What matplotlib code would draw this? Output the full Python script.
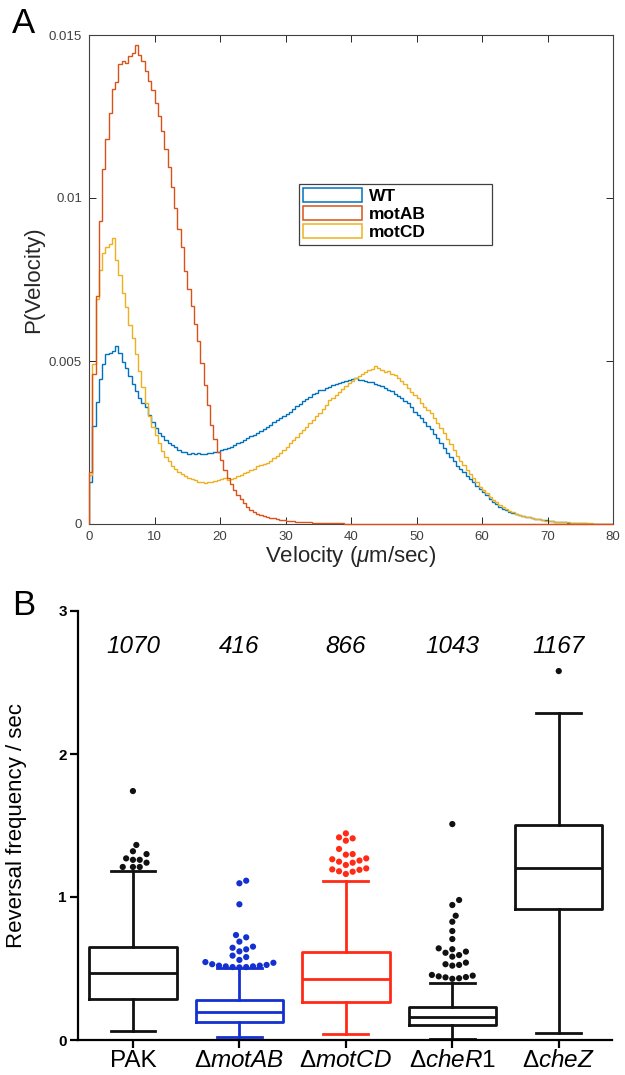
"""
Panel A: velocity distributions (WT / motAB / motCD)
Panel B: reversal frequency box plots
"""
import numpy as np
import matplotlib
matplotlib.use('Agg')
import matplotlib.pyplot as plt
from matplotlib.patches import Patch

plt.rcParams['font.family'] = ['Liberation Sans', 'DejaVu Sans']
plt.rcParams['mathtext.fontset'] = 'custom'
plt.rcParams['mathtext.rm'] = 'Liberation Sans'
plt.rcParams['mathtext.it'] = 'Liberation Sans:italic'
plt.rcParams['mathtext.bf'] = 'Liberation Sans:bold'

# ---- panel A data: P(velocity) per 0.5 um/sec bin, in units of 1e-3 ----
BIN_WIDTH = 0.5
series_names = ['WT', 'motAB', 'motCD']

wt = [
    1.3, 3.0, 3.75, 4.45, 4.9, 5.2, 5.25, 5.3, 5.45, 5.25,
    4.98, 4.78, 4.55, 4.3, 4.08, 3.88, 3.7, 3.58, 3.35, 3.12,
    2.95, 2.78, 2.7, 2.58, 2.5, 2.43, 2.35, 2.28, 2.22, 2.2,
    2.16, 2.19, 2.15, 2.18, 2.16, 2.14, 2.18, 2.17, 2.2, 2.21,
    2.26, 2.3, 2.34, 2.36, 2.43, 2.47, 2.53, 2.58, 2.63, 2.69,
    2.73, 2.8, 2.85, 2.92, 2.98, 3.05, 3.12, 3.18, 3.24, 3.31,
    3.37, 3.45, 3.52, 3.62, 3.69, 3.76, 3.83, 3.9, 3.98, 4.03,
    4.1, 4.12, 4.18, 4.2, 4.26, 4.3, 4.33, 4.37, 4.4, 4.43,
    4.44, 4.47, 4.42, 4.43, 4.4, 4.37, 4.35, 4.3, 4.27, 4.22,
    4.18, 4.12, 4.07, 4.0, 3.94, 3.86, 3.78, 3.7, 3.6, 3.45,
    3.35, 3.24, 3.13, 3.02, 2.9, 2.77, 2.63, 2.48, 2.33, 2.18,
    2.04, 1.92, 1.79, 1.68, 1.58, 1.48, 1.38, 1.28, 1.18, 1.08,
    0.98, 0.88, 0.78, 0.69, 0.6, 0.53, 0.47, 0.42, 0.38, 0.35,
    0.31, 0.28, 0.26, 0.23, 0.21, 0.19, 0.16, 0.14, 0.12, 0.11,
    0.09, 0.08, 0.07, 0.06, 0.05, 0.05, 0.04, 0.03, 0.03, 0.02,
    0.02, 0.02, 0.01, 0.01, 0.01, 0.01, 0.0, 0.0, 0.0, 0.0,
]

motab = [
    1.6, 4.6, 7.0, 9.3, 10.9, 11.8, 12.6, 13.35, 13.55, 14.1,
    14.2, 14.15, 14.35, 14.45, 14.7, 14.4, 14.2, 13.9, 13.6, 13.3,
    12.9, 12.5, 12.05, 11.5, 10.95, 10.35, 9.7, 9.05, 8.5, 7.75,
    7.2, 6.7, 6.15, 5.6, 4.95, 4.25, 3.65, 3.05, 2.6, 2.2,
    1.95, 1.65, 1.42, 1.22, 1.05, 0.9, 0.76, 0.63, 0.52, 0.43,
    0.37, 0.32, 0.28, 0.24, 0.21, 0.19, 0.17, 0.15, 0.13, 0.11,
    0.1, 0.09, 0.08, 0.07, 0.06, 0.06, 0.05, 0.05, 0.04, 0.04,
    0.04, 0.03, 0.03, 0.03, 0.02, 0.02, 0.02, 0.02, 0.01, 0.01,
    0.01, 0.01, 0.01, 0.01, 0.01, 0.01, 0.0, 0.0, 0.0, 0.0,
    0.0, 0.0, 0.0, 0.0, 0.0, 0.0, 0.0, 0.0, 0.0, 0.0,
    0.0, 0.0, 0.0, 0.0, 0.0, 0.0, 0.0, 0.0, 0.0, 0.0,
    0.0, 0.0, 0.0, 0.0, 0.0, 0.0, 0.0, 0.0, 0.0, 0.0,
    0.0, 0.0, 0.0, 0.0, 0.0, 0.0, 0.0, 0.0, 0.0, 0.0,
    0.0, 0.0, 0.0, 0.0, 0.0, 0.0, 0.0, 0.0, 0.0, 0.0,
    0.0, 0.0, 0.0, 0.0, 0.0, 0.0, 0.0, 0.0, 0.0, 0.0,
    0.0, 0.0, 0.0, 0.0, 0.0, 0.0, 0.0, 0.0, 0.0, 0.0,
]

motcd = [
    1.5, 4.9, 6.9, 7.8, 8.3, 8.5, 8.6, 8.78, 8.1, 7.65,
    7.1, 6.65, 6.1, 5.7, 5.2, 4.7, 4.2, 3.7, 3.3, 2.98,
    2.72, 2.5, 2.24, 2.05, 1.92, 1.78, 1.7, 1.6, 1.53, 1.46,
    1.42, 1.38, 1.35, 1.3, 1.29, 1.27, 1.28, 1.3, 1.33, 1.35,
    1.38, 1.4, 1.36, 1.38, 1.42, 1.46, 1.5, 1.55, 1.61, 1.66,
    1.7, 1.77, 1.82, 1.85, 1.88, 1.93, 2.01, 2.09, 2.17, 2.27,
    2.37, 2.47, 2.57, 2.68, 2.78, 2.88, 2.99, 3.09, 3.19, 3.3,
    3.4, 3.53, 3.66, 3.79, 3.88, 3.97, 4.06, 4.15, 4.23, 4.31,
    4.4, 4.48, 4.55, 4.6, 4.65, 4.71, 4.76, 4.85, 4.78, 4.72,
    4.65, 4.68, 4.6, 4.57, 4.48, 4.4, 4.3, 4.18, 4.06, 3.95,
    3.85, 3.72, 3.6, 3.5, 3.4, 3.25, 3.1, 2.95, 2.78, 2.6,
    2.44, 2.27, 2.1, 1.93, 1.8, 1.67, 1.54, 1.41, 1.28, 1.14,
    1.04, 0.94, 0.84, 0.75, 0.66, 0.58, 0.52, 0.46, 0.41, 0.37,
    0.32, 0.28, 0.26, 0.23, 0.21, 0.19, 0.16, 0.14, 0.12, 0.1,
    0.09, 0.08, 0.07, 0.06, 0.06, 0.05, 0.05, 0.04, 0.03, 0.03,
    0.03, 0.02, 0.02, 0.02, 0.01, 0.01, 0.01, 0.01, 0.0, 0.0,
]

series_colors = ['#0072BD', '#D95319', '#EDB120']

# ---- panel B data: reversal frequency box stats ----
groups = ['PAK', 'Δ$\\mathit{motAB}$', 'Δ$\\mathit{motCD}$',
          'Δ$\\mathit{cheR1}$', 'Δ$\\mathit{cheZ}$']
counts = [1070, 416, 866, 1043, 1167]
whisk_lo = [0.065, 0.023, 0.042, 0.007, 0.047]
q1 = [0.287, 0.128, 0.268, 0.105, 0.914]
median = [0.471, 0.198, 0.424, 0.163, 1.205]
q3 = [0.652, 0.280, 0.618, 0.229, 1.503]
whisk_hi = [1.184, 0.501, 1.114, 0.401, 2.289]
outliers = [
    [1.741, 1.364, 1.32, 1.30, 1.27, 1.26, 1.26, 1.24, 1.21, 1.21, 1.21],
    [1.114, 1.096, 0.949, 0.734, 0.718, 0.688, 0.653, 0.645, 0.634, 0.62,
     0.59, 0.58, 0.56, 0.545, 0.54, 0.53, 0.525, 0.52, 0.52, 0.515,
     0.515, 0.51, 0.51, 0.508],
    [1.445, 1.417, 1.41, 1.394, 1.336, 1.30, 1.296, 1.27, 1.264, 1.255,
     1.247, 1.24, 1.224, 1.20, 1.193, 1.19, 1.18, 1.177, 1.161],
    [1.51, 0.979, 0.944, 0.869, 0.827, 0.762, 0.706, 0.641, 0.635, 0.618,
     0.61, 0.594, 0.583, 0.541, 0.53, 0.525, 0.52, 0.455, 0.45, 0.445,
     0.44, 0.438, 0.432, 0.428],
    [2.58],
]
group_colors = ['#111111', '#1530D0', '#FF2B16', '#111111', '#111111']

W, H = 625, 1075
fig = plt.figure(figsize=(W / 100, H / 100), dpi=100, facecolor='white')

# ================= panel A =================
axA = fig.add_axes([89 / W, 1 - 524 / H, 524 / W, 489 / H])
edges = np.arange(len(wt) + 1) * BIN_WIDTH
for vals, name, col in zip([wt, motab, motcd], series_names, series_colors):
    st = axA.stairs(np.array(vals) * 1e-3, edges, baseline=0, color=col, lw=1.0, label=name)
    if name == 'motAB':
        # its long zero tail lies on the bottom axis, drawn over the spine
        st.set_zorder(3)
        st.set_clip_on(False)

axA.set_xlim(0, 80)
axA.set_ylim(0, 0.015)
axA.set_xticks(range(0, 81, 10))
axA.set_yticks([0, 0.005, 0.01, 0.015])
axA.set_yticklabels(['0', '0.005', '0.01', '0.015'])
axA.tick_params(direction='in', top=True, right=True, length=5, width=0.7,
                color='#262626', labelcolor='#404040', labelsize=9.5, pad=5)
for sp in axA.spines.values():
    sp.set_color('#404040')
    sp.set_linewidth(0.8)
axA.set_xlabel('Velocity ($\\mu$m/sec)', fontsize=16, color='#262626')
axA.set_ylabel('P(Velocity)', fontsize=16, color='#262626')
axA.xaxis.set_label_coords(0.5, -0.04)
axA.yaxis.set_label_coords(-0.085, 0.5)

handles = [Patch(facecolor='white', edgecolor=c, lw=1.1) for c in series_colors]
leg = axA.legend(handles, series_names, loc='upper left',
                 bbox_to_anchor=(0.4008, 0.5665, 0.3683, 0.1288), mode='expand',
                 borderaxespad=0, fancybox=False, edgecolor='#404040', framealpha=1,
                 prop=dict(weight='bold', size=12.5), handlelength=3.4, handleheight=0.85,
                 handletextpad=0.4, labelspacing=0.12, borderpad=0.25)
leg.get_frame().set_linewidth(0.9)

# ================= panel B =================
axB = fig.add_axes([78 / W, 1 - 1040 / H, 534 / W, 429 / H])
for i, col in enumerate(group_colors):
    st = dict(med=median[i], q1=q1[i], q3=q3[i], whislo=whisk_lo[i],
              whishi=whisk_hi[i], fliers=[])
    props = dict(color=col, lw=2.0)
    axB.bxp([st], positions=[i], widths=0.82, capwidths=0.42, showfliers=False,
            manage_ticks=False, boxprops=props, whiskerprops=props,
            capprops=props, medianprops=props)

axB.set_xlim(-0.516, 4.5)
axB.set_ylim(0, 3)


def swarm_x(ax, x0, values, spacing_px):
    # spread overlapping points sideways, beeswarm style
    trans = ax.transData
    inv = trans.inverted()
    placed, xs = [], []
    for v in values:
        px, py = trans.transform((x0, v))
        k = 0
        chosen = None
        while chosen is None:
            offs = [0.0] if k == 0 else [k * spacing_px / 2, -k * spacing_px / 2]
            for o in offs:
                if all((px + o - qx) ** 2 + (py - qy) ** 2 >= spacing_px ** 2
                       for qx, qy in placed):
                    chosen = o
                    break
            k += 1
        placed.append((px + chosen, py))
        xs.append(inv.transform((px + chosen, py))[0])
    return xs


for i, col in enumerate(group_colors):
    vals = sorted(outliers[i])
    xs = swarm_x(axB, i, vals, 6.8)
    axB.scatter(xs, vals, s=20, color=col, edgecolors='none', zorder=3)

for i, n in enumerate(counts):
    axB.text(i, 2.75, str(n), ha='center', va='center', style='italic', fontsize=17.5)

axB.spines['top'].set_visible(False)
axB.spines['right'].set_visible(False)
for sp in ['left', 'bottom']:
    axB.spines[sp].set_linewidth(1.6)
axB.set_yticks([0, 1, 2, 3])
axB.set_xticks(range(len(groups)))
axB.set_xticklabels(groups, fontsize=17.5)
axB.tick_params(axis='y', direction='out', length=6, width=1.6, labelsize=11, pad=2)
axB.tick_params(axis='x', direction='out', length=6, width=1.6, pad=1)
plt.setp(axB.get_yticklabels(), fontweight='bold')
axB.set_ylabel('Reversal frequency / sec', fontsize=16)
axB.yaxis.set_label_coords(-0.095, 0.5)

fig.text(12 / W, 1 - 33 / H, 'A', fontsize=25, va='baseline')
fig.text(12 / W, 1 - 615 / H, 'B', fontsize=25, va='baseline')

fig.savefig('out.png', dpi=100, facecolor='white')
